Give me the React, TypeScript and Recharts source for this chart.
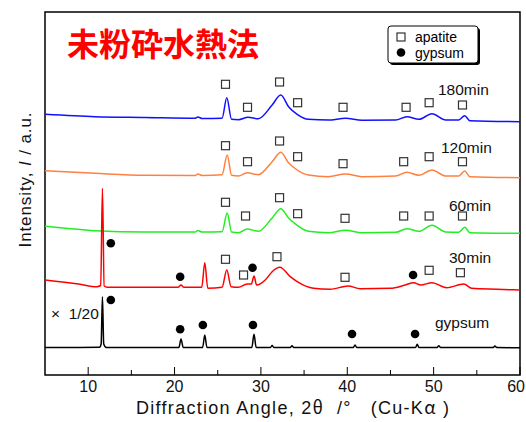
import React from "react";
import {
  ComposedChart,
  Line,
  Scatter,
  XAxis,
  YAxis,
  ReferenceArea,
} from "recharts";

// 2θ (deg) vs intensity (arb. units)
const trace180 = [
  [5, 260.7], [10.8, 258.3], [16.6, 257.5], [22.4, 256.7], [22.7, 258], [23.2, 256.5],
  [25.5, 256.7], [26.05, 277.3], [26.6, 255.7], [27.4, 255.3], [28.5, 257.7], [29.7, 256.3],
  [31.3, 270], [32.3, 280], [33.2, 268.3], [34.2, 260.7], [35.5, 255.7], [37.8, 255],
  [39.8, 256.7], [41.7, 254.7], [45.6, 255], [46.9, 258.3], [48.3, 255.7], [49.8, 261.3],
  [51.4, 255], [52.9, 255], [53.6, 259.3], [54.2, 254.3], [60, 253.3],
];
const trace120 = [
  [5, 204.3], [10.8, 201.7], [16.6, 199.7], [22.4, 199.5], [22.7, 201], [23.2, 199.5],
  [25.5, 200.3], [26.1, 220], [26.6, 199.7], [27.4, 199], [28.4, 202.3], [29.7, 200.3],
  [31.3, 213.3], [32.3, 222.7], [33.2, 212.3], [34.2, 205], [35.5, 200], [37.8, 198.3],
  [39.8, 201], [41.7, 198.3], [45.6, 199], [46.9, 202.7], [48.3, 199.7], [49.8, 205],
  [51.4, 199], [52.9, 199], [53.6, 204], [54.2, 198.3], [60, 197.3],
];
const trace60 = [
  [5, 148.7], [10.8, 144.3], [16.6, 143], [22.4, 143], [22.7, 144.5], [23.2, 143],
  [25.5, 143.3], [26.1, 162], [26.6, 143], [27.4, 142.3], [28.4, 146], [29.7, 143.7],
  [31.3, 157], [32.3, 166.3], [33.2, 157], [34.2, 149.7], [35.5, 143.7], [37.8, 142.3],
  [39.8, 144.7], [41.7, 142.3], [45.6, 142.7], [46.9, 146.3], [48.3, 143.7], [49.8, 149.7],
  [51.4, 143], [52.9, 142.7], [53.6, 147.7], [54.2, 142.3], [60, 141.7],
];
const trace30 = [
  [5, 95], [8.9, 91], [11.0, 88.3], [11.45, 89.5], [11.65, 186.7], [11.85, 89], [12.2, 87.7],
  [14.65, 87.7], [20.4, 87.7], [20.75, 90], [21.1, 87.7], [23.15, 87.7], [23.5, 112.3],
  [23.85, 86.7], [25.5, 87.7], [26.05, 105], [26.55, 88.3], [27.4, 87.7], [28.4, 91],
  [28.9, 91], [29.2, 99], [29.5, 90], [30.5, 95], [31.3, 103.3], [32.2, 107.7], [33.4, 98.3],
  [34.2, 93.3], [36.1, 86.7], [38.0, 85.7], [40.1, 89], [41.5, 86.3], [45.0, 86.7],
  [46.7, 90], [47.7, 92.3], [48.5, 90], [49.8, 92.3], [51.5, 87.3], [53.5, 91], [54.4, 86.7],
  [57.3, 85.7], [60, 85],
];
const traceGypsum = [
  [5, 27.5], [11.3, 27.7], [11.5, 31], [11.65, 78.3], [11.8, 31], [12.1, 27.5], [20.5, 27.5],
  [20.75, 36], [21.0, 27.5], [23.25, 27.5], [23.5, 40], [23.75, 27.5], [28.95, 27.5],
  [29.2, 40.7], [29.45, 27.5], [31.1, 27.5], [31.3, 29.5], [31.5, 27.5], [33.4, 27.5],
  [33.6, 29.2], [33.8, 27.5], [40.7, 27.5], [40.9, 30], [41.1, 27.5], [47.9, 27.5],
  [48.1, 30.7], [48.3, 27.5], [50.4, 27.5], [50.6, 29.2], [50.8, 27.5], [56.9, 27.5],
  [57.1, 29], [57.3, 27.5], [60, 27.3],
];

// peak markers
const apatite180 = [[25.9, 290.7], [28.45, 267.7], [32.16, 293], [34.25, 272.3], [39.51, 267.7], [46.81, 267.7], [49.48, 272.3], [53.34, 270]];
const apatite120 = [[25.9, 229.3], [28.45, 213.3], [32.16, 234], [34.25, 218.3], [39.51, 211.3], [46.53, 213.3], [49.48, 218.3], [53.34, 213.3]];
const apatite60 = [[25.9, 172.7], [28.22, 159], [32.16, 177.3], [34.25, 161.3], [39.74, 156.7], [46.53, 159], [49.48, 159], [53.34, 159]];
const apatite30 = [[25.9, 115.7], [27.99, 100], [31.86, 118.3], [39.74, 97.7], [49.48, 104.7], [53.1, 102.3]];
const gypsum30 = [[12.62, 131.7], [20.65, 98.3], [29.03, 107.3], [47.62, 100]];
const gypsumRef = [[12.62, 75], [20.65, 45.7], [23.28, 50], [29.08, 50], [40.55, 41], [47.85, 41]];

const xTicks = [10, 15, 20, 25, 30, 35, 40, 45, 50, 55, 60];

const toPts = (arr: number[][]) => arr.map(([x, y]) => ({ x, y }));

const FONT = "'Liberation Sans', Arial, sans-serif";
const CJK = "'Noto Sans CJK JP', sans-serif";

const Square = (p: any) => (
  <rect x={p.cx - 4} y={p.cy - 4} width={8} height={8} fill="#fff" stroke="#333" strokeWidth={1.2} />
);
const Dot = (p: any) => <circle cx={p.cx} cy={p.cy} r={4.3} fill="#000" />;

const AngleTick = (p: any) => {
  const v = p.payload.value;
  const major = v % 10 === 0;
  const last = v === 60;
  return (
    <g>
      <line x1={p.x} x2={p.x} y1={p.y} y2={p.y - (major ? 8 : 5)} stroke="#000" strokeWidth={1} />
      {major && (
        <text
          x={last ? 525 : p.x}
          y={p.y + 11}
          textAnchor={last ? "end" : "middle"}
          dominantBaseline="central"
          fontSize={16}
          fontFamily={FONT}
          fill="#111"
        >
          {v}
        </text>
      )}
    </g>
  );
};

const series = [
  { data: trace180, color: "#1010ff" },
  { data: trace120, color: "#ff8040" },
  { data: trace60, color: "#22ee22" },
  { data: trace30, color: "#ff0000" },
  { data: traceGypsum, color: "#000000" },
];

export default function App() {
  return (
    <div style={{ position: "absolute", left: 0, top: 0, width: 526, height: 422, background: "#fff" }}>
      <ComposedChart width={526} height={422} margin={{ top: 12, right: 6, bottom: 17, left: 45 }}>
        <XAxis
          type="number"
          dataKey="x"
          domain={[5, 60]}
          ticks={xTicks}
          allowDataOverflow
          axisLine={false}
          tickLine={false}
          tickSize={0}
          tickMargin={0}
          height={30}
          tick={<AngleTick />}
          interval={0}
        />
        <YAxis type="number" dataKey="y" domain={[0, 363]} hide width={0} allowDataOverflow />
        {series.map((s, i) => (
          <Line
            key={i}
            data={toPts(s.data)}
            dataKey="y"
            type="monotone"
            stroke={s.color}
            strokeWidth={1.5}
            dot={false}
            isAnimationActive={false}
          />
        ))}
        {[apatite180, apatite120, apatite60, apatite30].map((a, i) => (
          <Scatter key={"a" + i} data={toPts(a)} dataKey="y" shape={Square} isAnimationActive={false} />
        ))}
        {[gypsum30, gypsumRef].map((g, i) => (
          <Scatter key={"g" + i} data={toPts(g)} dataKey="y" shape={Dot} isAnimationActive={false} />
        ))}
        <ReferenceArea x1={5} x2={60} y1={0} y2={363} fill="none" stroke="#000" strokeWidth={1.5} />
      </ComposedChart>
      <svg width={526} height={422} style={{ position: "absolute", left: 0, top: 0, pointerEvents: "none" }}>
        <text x={67} y={42} fontSize={32} fontWeight="bold" fill="#ff0000" fontFamily={CJK} dominantBaseline="central">
          未粉砕水熱法
        </text>
        <rect x={390} y={28} width={90} height={37} rx={3} fill="#000" />
        <rect x={388} y={26} width={90} height={37} rx={3} fill="#fff" stroke="#000" strokeWidth={1} />
        <rect x={397} y={33} width={8} height={8} fill="#fff" stroke="#333" strokeWidth={1.2} />
        <text x={415} y={36.5} fontSize={14} fontFamily={FONT} dominantBaseline="central">apatite</text>
        <circle cx={401} cy={52.5} r={4.3} fill="#000" />
        <text x={415} y={52.5} fontSize={14} fontFamily={FONT} dominantBaseline="central">gypsum</text>

        <g fontSize={15.5} fontFamily={FONT} fill="#111" dominantBaseline="central">
          <text x={438} y={89}>180min</text>
          <text x={441} y={147}>120min</text>
          <text x={449} y={205}>60min</text>
          <text x={449} y={257}>30min</text>
          <text x={435} y={322}>gypsum</text>
          <text x={51} y={313} style={{ whiteSpace: "pre" }}>×  1/20</text>
        </g>

        <text
          x={136}
          y={414}
          fontSize={18}
          fontFamily={FONT}
          fill="#111"
          textLength={313}
          lengthAdjust="spacing"
          style={{ whiteSpace: "pre" }}
        >
          Diffraction Angle, 2<tspan fontFamily={CJK}>θ</tspan>  /°   (Cu-K<tspan fontFamily={CJK}>α</tspan> )
        </text>
        <text
          transform="rotate(-90)"
          x={-180}
          y={25}
          fontSize={17}
          fontFamily={FONT}
          fill="#111"
          textAnchor="middle"
          dominantBaseline="central"
          textLength={135}
          lengthAdjust="spacing"
          style={{ whiteSpace: "pre" }}
        >
          Intensity, <tspan fontStyle="italic">I</tspan> / a.u.
        </text>
      </svg>
    </div>
  );
}
